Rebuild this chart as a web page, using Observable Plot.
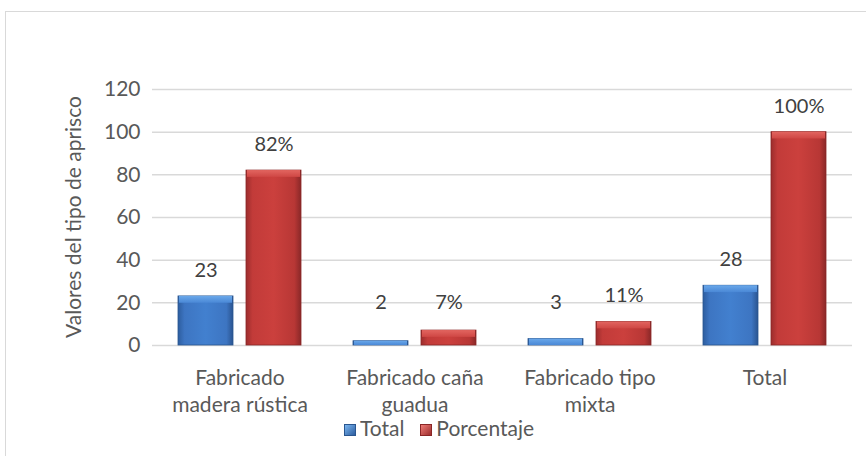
<!DOCTYPE html>
<html><head><meta charset="utf-8">
<script src="https://cdn.jsdelivr.net/npm/d3@7"></script>
<script src="https://cdn.jsdelivr.net/npm/@observablehq/plot@0.6"></script>
<style>
body{margin:0;background:#fff;font-family:Lato,"Open Sans",sans-serif;}
#frame{position:absolute;left:5px;top:11px;width:870px;height:460px;border:1px solid #d9d9d9;box-sizing:border-box;}
#chart{position:absolute;left:0;top:0;}
#ylabel{position:absolute;left:72px;top:217px;transform:translate(-50%,-50%) rotate(-90deg);white-space:nowrap;font-size:21px;color:#595959;}
#legend{position:absolute;top:417px;left:6px;width:866px;text-align:center;font-size:21px;line-height:22px;color:#595959;}
#legend span.sw{display:inline-block;width:12px;height:12px;margin-right:4px;vertical-align:0px;box-sizing:border-box;}
</style></head>
<body>
<div id="frame"></div>
<div id="chart"></div>
<div id="ylabel">Valores del tipo de aprisco</div>
<div id="legend"></div>
<script>
const categories = ["Fabricado\nmadera rústica", "Fabricado caña\nguadua", "Fabricado tipo\nmixta", "Total"];
const series = ["Total", "Porcentaje"];
const totalValues = [23, 2, 3, 28];
const percentValues = [82, 7, 11, 100];
const totalLabels = ["23", "2", "3", "28"];
const percentLabels = ["82%", "7%", "11%", "100%"];
const yTicks = [0, 20, 40, 60, 80, 100, 120];

const data = [];
categories.forEach((c, i) => {
  data.push({cat: c, series: "Total", value: totalValues[i], label: totalLabels[i]});
  data.push({cat: c, series: "Porcentaje", value: percentValues[i], label: percentLabels[i]});
});
const fills = {"Total": "url(#gBlue)", "Porcentaje": "url(#gRed)"};
const tops = {"Total": "url(#gBlueTop)", "Porcentaje": "url(#gRedTop)"};
const strokes = {"Total": "#2a568f", "Porcentaje": "#8a2626"};

const plot = Plot.plot({
  width: 866, height: 418,
  marginLeft: 152, marginRight: 14, marginTop: 89, marginBottom: 73,
  style: {fontFamily: "Lato, 'Open Sans', sans-serif", fontSize: "20px", color: "#595959", background: "transparent"},
  fx: {domain: categories, padding: 0, label: null, axis: null},
  x: {domain: series, paddingInner: 0.19, paddingOuter: 0.38, axis: null},
  y: {domain: [0, 120], ticks: yTicks, label: null, grid: false},
  marks: [
    Plot.gridY(yTicks, {stroke: "#d9d9d9", strokeOpacity: 1, strokeWidth: 1.5}),
    Plot.axisY(yTicks, {tickSize: 0, tickPadding: 12, fontSize: 21, fill: "#595959", label: null}),
    Plot.axisFx({anchor: "bottom", tickSize: 0, tickPadding: 20, fontSize: 21, lineHeight: 1.3, fill: "#595959", label: null}),
    Plot.barY(data, {fx: "cat", x: "series", y: "value", fill: d => fills[d.series], stroke: d => strokes[d.series], strokeWidth: 0.8}),
    Plot.barY(data, {fx: "cat", x: "series", y1: "value", y2: d => Math.max(0, d.value - 3.2), insetLeft: 1, insetRight: 1, fill: d => tops[d.series]}),
    Plot.text(data, {fx: "cat", x: "series", y: d => Math.max(d.value, 8), text: "label", dy: -26, fontSize: 20, fill: "#404040"})
  ]
});

const defs = `<defs>
<linearGradient id="gBlue" x1="0" x2="1" y1="0" y2="0">
<stop offset="0" stop-color="#2d5d9f"/><stop offset="0.12" stop-color="#3d75c2"/><stop offset="0.5" stop-color="#4280cf"/><stop offset="0.88" stop-color="#3d75c2"/><stop offset="1" stop-color="#2a5490"/></linearGradient>
<linearGradient id="gRed" x1="0" x2="1" y1="0" y2="0">
<stop offset="0" stop-color="#9c2d2d"/><stop offset="0.12" stop-color="#c23b39"/><stop offset="0.5" stop-color="#cb403d"/><stop offset="0.88" stop-color="#b83735"/><stop offset="1" stop-color="#8a2828"/></linearGradient>
<linearGradient id="gBlueTop" x1="0" x2="0" y1="0" y2="1">
<stop offset="0" stop-color="#6aa8ea"/><stop offset="1" stop-color="#4a88d6"/></linearGradient>
<linearGradient id="gRedTop" x1="0" x2="0" y1="0" y2="1">
<stop offset="0" stop-color="#e26560"/><stop offset="1" stop-color="#cf4744"/></linearGradient>
</defs>`;
plot.insertAdjacentHTML("afterbegin", defs);
document.getElementById("chart").appendChild(plot);

const leg = document.getElementById("legend");
const swatchStyles = {"Total": "background:linear-gradient(135deg,#7bb6f0,#2d5d9f);border:1px solid #2a568f;", "Porcentaje": "background:linear-gradient(135deg,#ee7b76,#9c2d2d);border:1px solid #8a2626;"};
series.forEach(s => {
  const it = document.createElement("span");
  it.style.margin = "0 8px";
  it.innerHTML = `<span class="sw" style="${swatchStyles[s]}"></span>${s}`;
  leg.appendChild(it);
});
</script>
</body></html>
